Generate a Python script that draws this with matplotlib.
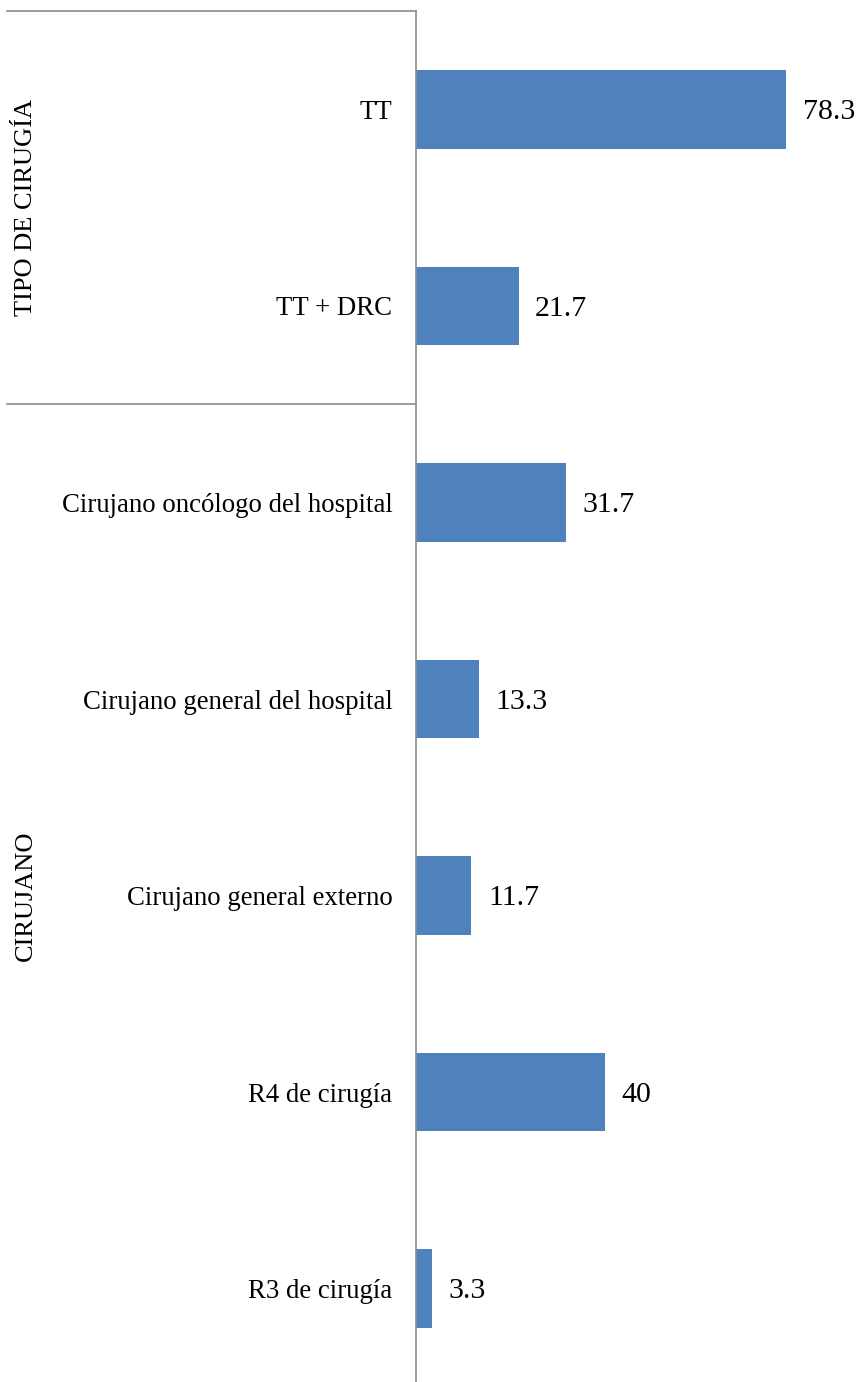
"""
Horizontal bar chart of surgery type and surgeon distribution (percent).
"""
import matplotlib.pyplot as plt
from matplotlib.lines import Line2D
from matplotlib import transforms

plt.rcParams['font.family'] = ['Liberation Serif', 'DejaVu Serif']

categories = ['TT', 'TT + DRC',
              'Cirujano oncólogo del hospital', 'Cirujano general del hospital',
              'Cirujano general externo', 'R4 de cirugía', 'R3 de cirugía']
values = [78.3, 21.7, 31.7, 13.3, 11.7, 40, 3.3]
groups = ['TIPO DE CIRUGÍA', 'CIRUJANO']
group_sizes = [2, 5]

bar_color = '#4F81BD'
line_color = '#8C8C8C'

W, H = 859, 1382
fig = plt.figure(figsize=(W / 100, H / 100), dpi=100)
# axes frame placed in pixel units
ax_left, ax_right, ax_top, ax_bottom = 416, 859, 11, 1387
ax = fig.add_axes([ax_left / W, 1 - ax_bottom / H,
                   (ax_right - ax_left) / W, (ax_bottom - ax_top) / H])

ypos = list(range(len(categories)))
ax.barh(ypos, values, height=0.4, color=bar_color)
ax.set_ylim(len(categories) - 0.5, -0.5)
ax.set_xlim(0, (ax_right - ax_left) / 4.725)

ax.set_yticks(ypos)
ax.set_yticklabels(categories, fontsize=19.3)
ax.tick_params(axis='y', length=0, pad=17)
ax.set_xticks([])
for side in ['top', 'right', 'bottom']:
    ax.spines[side].set_visible(False)
ax.spines['left'].set_color(line_color)
ax.spines['left'].set_linewidth(1.2)

for y, v in zip(ypos, values):
    ax.annotate(f'{v:g}', xy=(v, y), xytext=(12, -2), textcoords='offset points',
                va='center', ha='left', fontsize=21.5)

# group separators and labels on the left
trans = transforms.blended_transform_factory(fig.transFigure, ax.transData)
x0 = 7 / W
x1 = ax_left / W
start = 0
for name, n in zip(groups, group_sizes):
    top = start - 0.5
    fig.add_artist(Line2D([x0, x1], [top, top], transform=trans,
                          color=line_color, linewidth=1.2))
    center = start + (n - 1) / 2
    fig.text(26 / W, center, name, transform=trans, rotation=90,
             ha='center', va='center', fontsize=19)
    start += n

fig.savefig('out.png', dpi=100)
